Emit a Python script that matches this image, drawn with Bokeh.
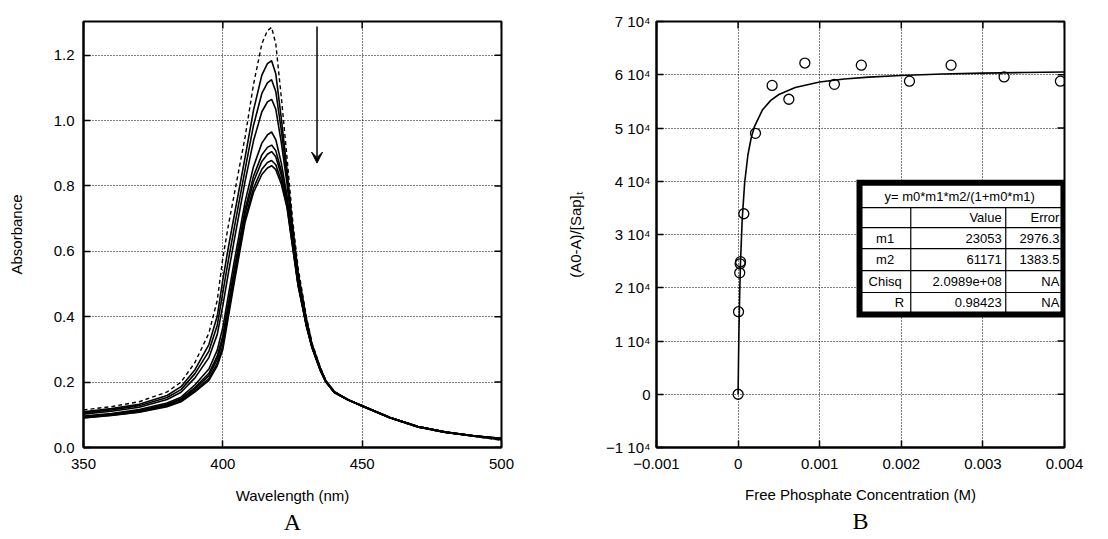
import math
from bokeh.plotting import figure
from bokeh.layouts import row
from bokeh.models import Range1d, FixedTicker, Title, Arrow, VeeHead
from bokeh.core.properties import value
from bokeh.embed import file_html
from bokeh.resources import INLINE

# ---------------- Panel A data: absorbance spectra ----------------
wavelength = [350, 360, 370, 380, 385, 390, 395, 398, 400, 402, 404, 408, 411, 414, 416, 417.5,
              419, 421, 423, 425, 427, 430, 432, 435, 437, 440, 445, 450, 460, 470, 480, 490, 500]
abs_initial = [0.115, 0.125, 0.140, 0.170, 0.200, 0.260, 0.350, 0.450, 0.580, 0.680, 0.770, 0.950, 1.110, 1.235, 1.275, 1.285,
               1.235, 1.070, 0.890, 0.700, 0.550, 0.400, 0.320, 0.245, 0.205, 0.172, 0.146, 0.126, 0.090, 0.062, 0.045, 0.034, 0.022]
abs_1 = [0.109, 0.119, 0.132, 0.159, 0.186, 0.238, 0.315, 0.402, 0.513, 0.613, 0.705, 0.888, 1.031, 1.139, 1.174, 1.183,
         1.143, 1.006, 0.853, 0.680, 0.537, 0.393, 0.316, 0.243, 0.204, 0.171, 0.146, 0.126, 0.090, 0.063, 0.046, 0.035, 0.024]
abs_2 = [0.106, 0.115, 0.128, 0.153, 0.177, 0.226, 0.295, 0.374, 0.474, 0.574, 0.667, 0.851, 0.985, 1.083, 1.115, 1.125,
         1.089, 0.969, 0.831, 0.668, 0.529, 0.389, 0.314, 0.241, 0.203, 0.170, 0.146, 0.126, 0.091, 0.063, 0.046, 0.035, 0.024]
abs_3 = [0.102, 0.111, 0.123, 0.147, 0.169, 0.213, 0.275, 0.346, 0.434, 0.534, 0.630, 0.815, 0.938, 1.027, 1.057, 1.065,
         1.035, 0.932, 0.809, 0.656, 0.521, 0.384, 0.312, 0.240, 0.202, 0.170, 0.146, 0.127, 0.091, 0.063, 0.046, 0.035, 0.025]
abs_4 = [0.096, 0.104, 0.116, 0.136, 0.154, 0.192, 0.240, 0.298, 0.367, 0.467, 0.565, 0.752, 0.859, 0.931, 0.956, 0.965,
         0.942, 0.869, 0.772, 0.635, 0.508, 0.377, 0.309, 0.237, 0.201, 0.169, 0.145, 0.127, 0.092, 0.064, 0.047, 0.036, 0.027]
abs_5 = [0.094, 0.102, 0.113, 0.132, 0.149, 0.184, 0.227, 0.280, 0.342, 0.442, 0.541, 0.729, 0.830, 0.895, 0.918, 0.925,
         0.908, 0.845, 0.758, 0.628, 0.503, 0.375, 0.307, 0.237, 0.201, 0.169, 0.145, 0.128, 0.092, 0.064, 0.047, 0.036, 0.027]
abs_6 = [0.093, 0.101, 0.111, 0.130, 0.146, 0.179, 0.220, 0.270, 0.328, 0.428, 0.527, 0.716, 0.813, 0.875, 0.897, 0.905,
         0.889, 0.832, 0.751, 0.624, 0.501, 0.373, 0.307, 0.236, 0.200, 0.168, 0.145, 0.128, 0.092, 0.064, 0.047, 0.036, 0.027]
abs_7 = [0.091, 0.099, 0.109, 0.127, 0.142, 0.174, 0.211, 0.258, 0.311, 0.411, 0.511, 0.700, 0.793, 0.851, 0.872, 0.878,
         0.865, 0.816, 0.741, 0.618, 0.497, 0.371, 0.306, 0.235, 0.200, 0.168, 0.145, 0.128, 0.092, 0.064, 0.047, 0.036, 0.028]
abs_8 = [0.090, 0.098, 0.108, 0.125, 0.140, 0.170, 0.205, 0.250, 0.300, 0.400, 0.500, 0.690, 0.780, 0.835, 0.855, 0.862,
         0.850, 0.805, 0.735, 0.615, 0.495, 0.370, 0.305, 0.235, 0.200, 0.168, 0.145, 0.128, 0.092, 0.064, 0.047, 0.036, 0.028]
solid_spectra = [abs_1, abs_2, abs_3, abs_4, abs_5, abs_6, abs_7, abs_8]

xA_ticks = [350, 400, 450, 500]
xA_labels = ["350", "400", "450", "500"]
yA_ticks = [0.0, 0.2, 0.4, 0.6, 0.8, 1.0, 1.2]
yA_labels = ["0.0", "0.2", "0.4", "0.6", "0.8", "1.0", "1.2"]

# ---------------- Panel B data: binding isotherm ----------------
conc = [0.0, 0.000005, 0.00002, 0.000025, 0.00003, 0.00007, 0.000213, 0.000417, 0.000622,
        0.000818, 0.00118, 0.00151, 0.0021, 0.00261, 0.00326, 0.00395]
delta = [0, 15500, 22800, 24500, 24900, 33900, 49000, 58000, 55400,
         62200, 58200, 61800, 58800, 61800, 59600, 58800]
fit_x = [0.0, 0.000005, 0.00001, 0.00002, 0.00003, 0.00005, 0.00008, 0.00012, 0.00016, 0.0002,
         0.0003, 0.0004, 0.0005, 0.0007, 0.001, 0.0013, 0.0016, 0.002, 0.0025, 0.003, 0.0035, 0.004]
fit_y = [0, 6320, 11460, 19300, 25010, 32750, 39670, 44930, 48120, 50270,
         53440, 55190, 56290, 57600, 58630, 59200, 59560, 59870, 60130, 60300, 60420, 60515]

xB_ticks = [-0.001, 0.0, 0.001, 0.002, 0.003, 0.004]
xB_labels = ["\u22120.001", "0", "0.001", "0.002", "0.003", "0.004"]
yB_ticks = [-10000, 0, 10000, 20000, 30000, 40000, 50000, 60000, 70000]
yB_labels = ["\u22121 10\u2074", "0", "1 10\u2074", "2 10\u2074", "3 10\u2074", "4 10\u2074",
             "5 10\u2074", "6 10\u2074", "7 10\u2074"]

tbl_title = "y=  m0*m1*m2/(1+m0*m1)"
tbl_header = ["Value", "Error"]
tbl_names = ["m1", "m2", "Chisq", "R"]
tbl_values = ["23053", "61171", "2.0989e+08", "0.98423"]
tbl_errors = ["2976.3", "1383.5", "NA", "NA"]

# ---------------- styling helpers ----------------
SANS = "Liberation Sans"
SERIF = "Liberation Serif"
TICK_FS = "15px"
LABEL_FS = "15px"


def style(p, xt, xl, yt, yl):
    p.outline_line_color = "black"
    p.outline_line_width = 2
    p.background_fill_color = "white"
    p.border_fill_color = "white"
    for ax, t, l in ((p.xaxis[0], xt, xl), (p.yaxis[0], yt, yl)):
        ax.ticker = FixedTicker(ticks=t)
        ax.major_label_overrides = {k: v for k, v in zip(t, l)}
        ax.axis_line_color = "black"
        ax.axis_line_width = 2
        ax.major_tick_in = 7
        ax.major_tick_out = 0
        ax.major_tick_line_width = 1.5
        ax.minor_tick_line_color = None
        ax.major_label_text_font = SANS
        ax.major_label_text_font_size = TICK_FS
        ax.major_label_text_color = "black"
        ax.axis_label_text_font = SANS
        ax.axis_label_text_font_size = LABEL_FS
        ax.axis_label_text_font_style = "normal"
        ax.axis_label_text_color = "black"
    p.xgrid.ticker = FixedTicker(ticks=xt)
    p.ygrid.ticker = FixedTicker(ticks=yt)
    for g in (p.xgrid[0], p.ygrid[0]):
        g.grid_line_color = "black"
        g.grid_line_dash = "1 2"
        g.grid_line_width = 1


def mirror_ticks(p, xt, yt):
    # inward tick marks on the right and top frame edges (markers half-clipped by the frame)
    xr, yr = p.x_range, p.y_range
    p.scatter([xr.end] * len(yt), yt, marker="dash", size=14, line_color="black", line_width=1.5)
    p.scatter(xt, [yr.end] * len(xt), marker="dash", angle=math.pi / 2, size=14,
              line_color="black", line_width=1.5)


# ---------------- Panel A ----------------
pA = figure(width=560, height=538, output_backend="svg", toolbar_location=None,
            x_range=Range1d(350, 500), y_range=Range1d(0, 1.303),
            min_border_left=83, min_border_right=59, min_border_top=17, min_border_bottom=91,
            x_axis_label="Wavelength (nm)", y_axis_label="Absorbance")
style(pA, xA_ticks, xA_labels, yA_ticks, yA_labels)
pA.xaxis.major_label_standoff = 11
pA.xaxis.axis_label_standoff = 15
pA.yaxis.major_label_standoff = 9
pA.yaxis.axis_label_standoff = 26
mirror_ticks(pA, xA_ticks, yA_ticks)

for s in solid_spectra:
    pA.line(wavelength, s, line_color="black", line_width=1.6)
pA.line(wavelength, abs_initial, line_color="black", line_width=1.4, line_dash="4 3")

ARROW_X, ARROW_Y0, ARROW_Y1 = 433.8, 1.288, 0.87
pA.add_layout(Arrow(end=VeeHead(size=11, fill_color="black", line_color="black", line_width=1),
                    x_start=ARROW_X, y_start=ARROW_Y0, x_end=ARROW_X, y_end=ARROW_Y1,
                    line_color="black", line_width=1.5))
tA = Title(text="A", align="center", text_font=SERIF, text_font_size="24px",
           text_font_style="normal", text_color="black", standoff=0)
pA.add_layout(tA, "below")

# ---------------- Panel B ----------------
pB = figure(width=548, height=538, output_backend="svg", toolbar_location=None,
            x_range=Range1d(-0.001, 0.004), y_range=Range1d(-10000, 70000),
            min_border_left=96, min_border_right=44, min_border_top=21, min_border_bottom=90,
            x_axis_label="Free Phosphate Concentration (M)",
            y_axis_label="(A0-A)/[Sap]\u209c")
style(pB, xB_ticks, xB_labels, yB_ticks, yB_labels)
pB.xaxis.major_label_standoff = 11
pB.xaxis.axis_label_standoff = 14
pB.yaxis.major_label_standoff = 6
pB.yaxis.axis_label_standoff = 19
mirror_ticks(pB, xB_ticks, yB_ticks)

pB.line(fit_x, fit_y, line_color="black", line_width=1.6)
pB.scatter(conc, delta, marker="circle", size=10, fill_color=None,
           line_color="black", line_width=1.3)

# fit-results table (drawn in data space of panel B)
T_LEFT, T_RIGHT, T_TOP, T_BOTTOM = 0.001488, 0.003987, 39700, 14990
T_COL1, T_COL2 = 0.002116, 0.003280
T_ROWS = [35035, 31288, 27354, 23232, 19110]
T_TITLE_Y = 37090
T_ROW_Y = [33150, 29320, 25290, 21170, 17240]
pB.quad(left=[T_LEFT], right=[T_RIGHT], top=[T_TOP], bottom=[T_BOTTOM],
        fill_color="white", line_color="black", line_width=6, line_join="miter")
pB.segment(x0=[T_LEFT] * len(T_ROWS), x1=[T_RIGHT] * len(T_ROWS), y0=T_ROWS, y1=T_ROWS,
           line_color="black", line_width=1.2)
pB.segment(x0=[T_COL1, T_COL2], x1=[T_COL1, T_COL2], y0=[T_ROWS[0]] * 2, y1=[T_BOTTOM] * 2,
           line_color="black", line_width=1.2)
TF = value(SANS)
pB.text(x=[(T_LEFT + T_RIGHT) / 2], y=[T_TITLE_Y], text=[tbl_title], text_font=TF,
        text_font_size="13px", text_align="center", text_baseline="middle", text_color="black")
pB.text(x=[T_COL2 - 0.00005, T_RIGHT - 0.00005], y=[T_ROW_Y[0]] * 2, text=tbl_header,
        text_font=TF, text_font_size="13px", text_align="right", text_baseline="middle",
        text_color="black")
name_x = [(T_LEFT + T_COL1) / 2] * 3
pB.text(x=name_x, y=T_ROW_Y[1:4], text=tbl_names[:3], text_font=TF, text_font_size="13px",
        text_align="center", text_baseline="middle", text_color="black")
pB.text(x=[T_COL1 - 0.00008], y=[T_ROW_Y[4]], text=tbl_names[3:], text_font=TF,
        text_font_size="13px", text_align="right", text_baseline="middle", text_color="black")
pB.text(x=[T_COL2 - 0.00005] * 4, y=T_ROW_Y[1:], text=tbl_values, text_font=TF,
        text_font_size="13px", text_align="right", text_baseline="middle", text_color="black")
pB.text(x=[T_RIGHT - 0.00005] * 4, y=T_ROW_Y[1:], text=tbl_errors, text_font=TF,
        text_font_size="13px", text_align="right", text_baseline="middle", text_color="black")

tB = Title(text="B", align="center", text_font=SERIF, text_font_size="24px",
           text_font_style="normal", text_color="black", standoff=0)
pB.add_layout(tB, "below")

layout = row(pA, pB)
open("out.html", "w").write(file_html(layout, INLINE))
